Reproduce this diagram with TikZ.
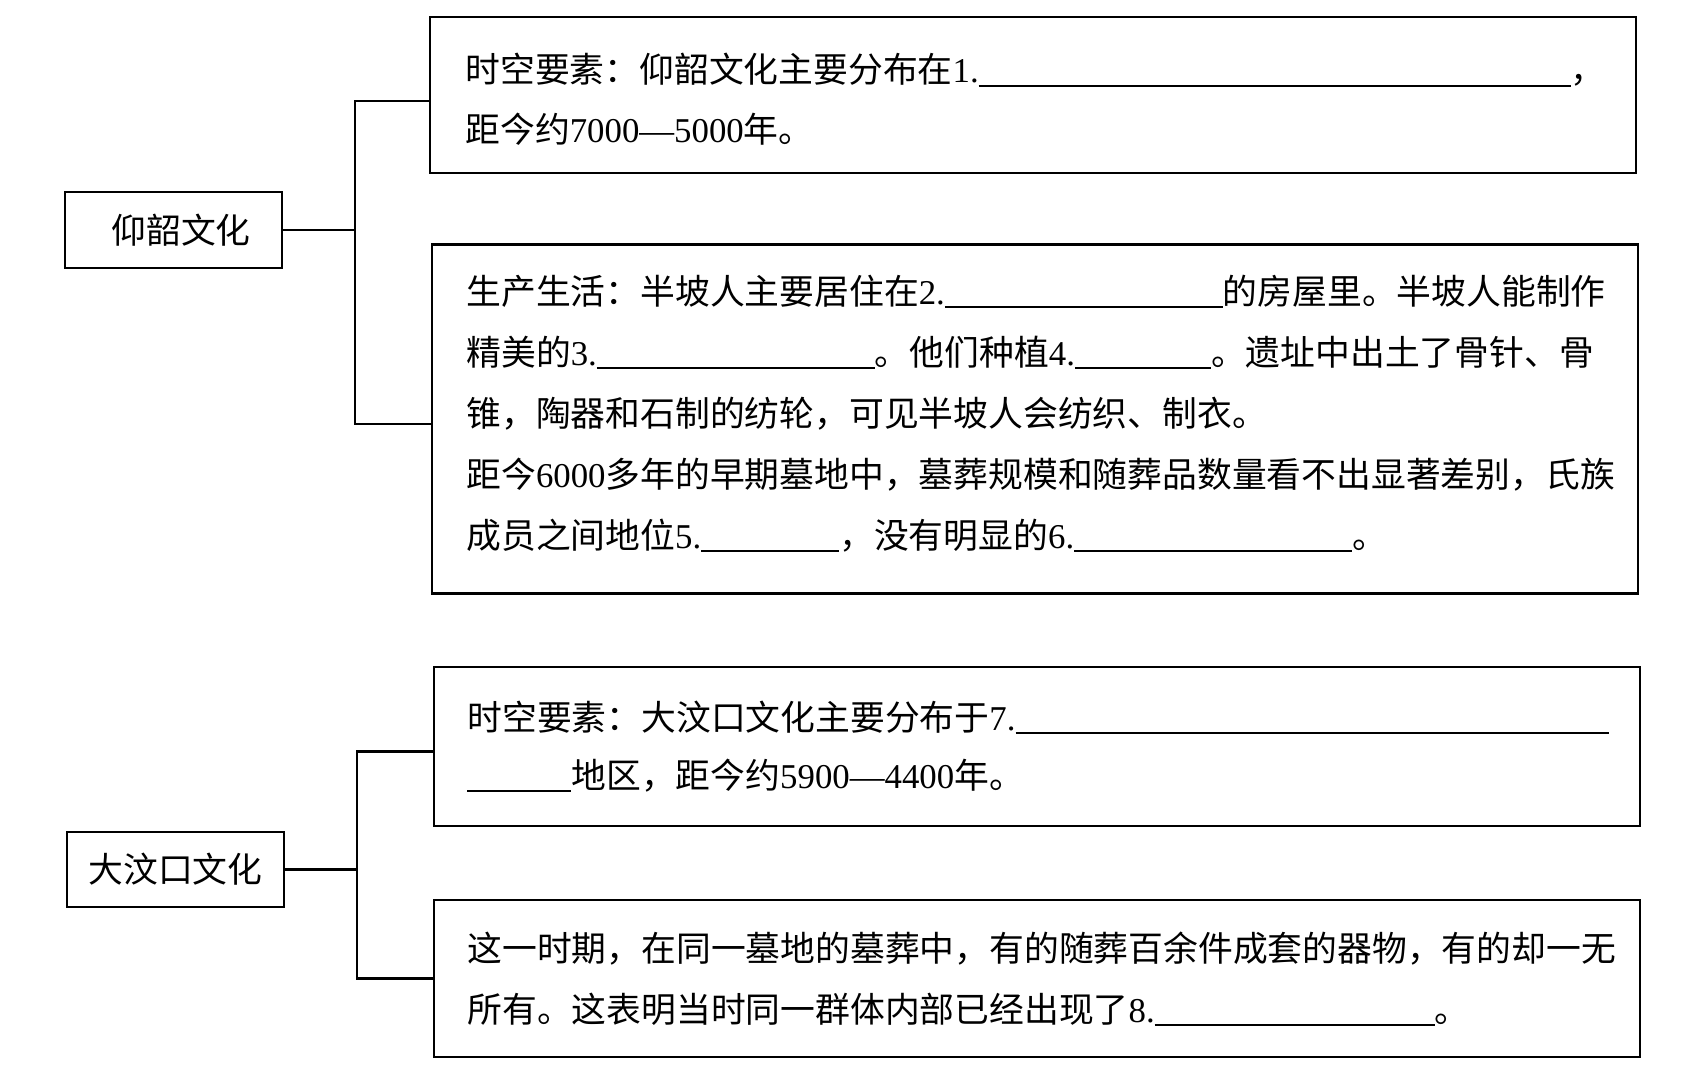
\documentclass[tikz,border=0pt]{standalone}
\usepackage{fontspec}
\setmainfont{Noto Sans CJK SC}
\newfontfamily\lat{Liberation Serif}
\newcommand\nm[1]{{\lat #1}}
\newcommand\blank[1]{\rule[-2pt]{#1pt}{0.8pt}}
\begin{document}
\begin{tikzpicture}[x=0.5pt,y=-0.5pt,
  box/.style={draw, line width=1.2pt, inner sep=0pt, rectangle, font=\fontsize{17.4pt}{20pt}\selectfont},
  lbl/.style={inner sep=0pt, font=\fontsize{17.4pt}{20pt}\selectfont},
  txt/.style={anchor=base west, inner sep=0pt, font=\fontsize{17.4pt}{20pt}\selectfont},
  link/.style={line width=1.1pt}]
\useasboundingbox[fill=white] (0,0) rectangle (1688,1086);

% left boxes
\node[box, minimum width=108.5pt, minimum height=38pt] (A) at (173.5,230) {};
\node[lbl] (Alab) at (181,230) {仰韶文化};
\node[box, minimum width=108.5pt, minimum height=37.5pt] (B) at (175.5,869.5) {大汶口文化};

% right boxes
\node[box, minimum width=603pt, minimum height=78pt] (b1) at (1033,95) {};
\node[box, minimum width=603pt, minimum height=174.5pt] (b2) at (1035,419) {};
\node[box, minimum width=603pt, minimum height=79.5pt] (b3) at (1037,746.5) {};
\node[box, minimum width=603pt, minimum height=78.5pt] (b4) at (1037,978.5) {};

% connectors
\coordinate (jA) at (355,230);
\coordinate (jB) at (357,869.5);
\draw[link] (A.east) -- (jA);
\draw[link] (jA) |- ([yshift=-3pt]b1.west);
\draw[link] (jA) |- ([yshift=-2.5pt]b2.west);
\draw[link] (B.east) -- (jB);
\draw[link] (jB) |- ([yshift=-2.5pt]b3.west);
\draw[link] (jB) |- (b4.west);

% box 1 text
\node[txt] (t1a) at (465,83) {时空要素：仰韶文化主要分布在\nm{1.}\blank{296}，};
\node[txt] (t1b) at (465,143) {距今约\nm{7000—5000}年。};

% box 2 text
\node[txt] (t2a) at (466,304) {生产生活：半坡人主要居住在\nm{2.}\blank{139}的房屋里。半坡人能制作};
\node[txt] (t2b) at (466,365) {精美的\nm{3.}\blank{139}。他们种植\nm{4.}\blank{68}。遗址中出土了骨针、骨};
\node[txt] (t2c) at (466,426) {锥，陶器和石制的纺轮，可见半坡人会纺织、制衣。};
\node[txt] (t2d) at (466,487) {距今\nm{6000}多年的早期墓地中，墓葬规模和随葬品数量看不出显著差别，氏族};
\node[txt] (t2e) at (466,548) {成员之间地位\nm{5.}\blank{69}，没有明显的\nm{6.}\blank{139}。};

% box 3 text
\node[txt] (t3a) at (467,730) {时空要素：大汶口文化主要分布于\nm{7.}\blank{297}};
\node[txt] (t3b) at (467,788) {\blank{52}地区，距今约\nm{5900—4400}年。};

% box 4 text
\node[txt] (t4a) at (467,961) {这一时期，在同一墓地的墓葬中，有的随葬百余件成套的器物，有的却一无};
\node[txt] (t4b) at (467,1022) {所有。这表明当时同一群体内部已经出现了\nm{8.}\blank{140}。};
\end{tikzpicture}
\end{document}
